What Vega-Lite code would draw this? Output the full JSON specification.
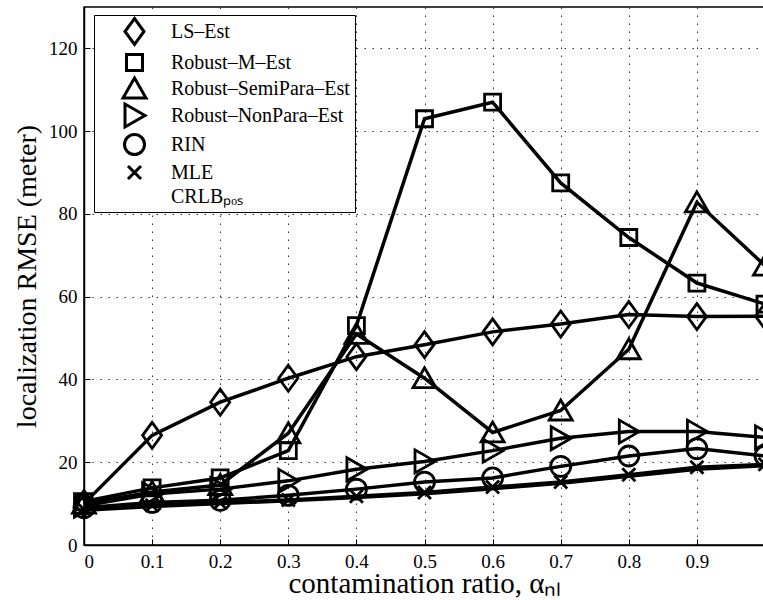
{
  "$schema": "https://vega.github.io/schema/vega-lite/v6.json",
  "width": 681,
  "height": 538,
  "autosize": {"type": "none"},
  "padding": {"left": 84, "top": 7, "right": 0, "bottom": 55},
  "background": "white",
  "config": {
    "font": "Liberation Serif",
    "view": {"stroke": "black", "strokeWidth": 1.5},
    "axis": {
      "domainColor": "black",
      "domainWidth": 1.5,
      "tickColor": "black",
      "tickSize": -6,
      "tickWidth": 1,
      "labelFont": "Liberation Serif",
      "labelFontSize": 19,
      "labelColor": "black",
      "titleFont": "Liberation Serif",
      "titleFontSize": 28,
      "titleFontWeight": "normal",
      "titleColor": "black",
      "grid": true,
      "gridColor": "black",
      "gridDash": [1.5, 6.5],
      "gridWidth": 1,
      "gridOpacity": 0.8
    }
  },
  "data": {
    "values": [
      {"x": 0.0, "series": "LS–Est", "y": 10.0},
      {"x": 0.1, "series": "LS–Est", "y": 26.5},
      {"x": 0.2, "series": "LS–Est", "y": 34.5},
      {"x": 0.3, "series": "LS–Est", "y": 40.3},
      {"x": 0.4, "series": "LS–Est", "y": 45.5},
      {"x": 0.5, "series": "LS–Est", "y": 48.4},
      {"x": 0.6, "series": "LS–Est", "y": 51.5},
      {"x": 0.7, "series": "LS–Est", "y": 53.4},
      {"x": 0.8, "series": "LS–Est", "y": 55.7},
      {"x": 0.9, "series": "LS–Est", "y": 55.2},
      {"x": 1.0, "series": "LS–Est", "y": 55.3},

      {"x": 0.0, "series": "Robust–M–Est", "y": 10.5},
      {"x": 0.1, "series": "Robust–M–Est", "y": 13.8},
      {"x": 0.2, "series": "Robust–M–Est", "y": 16.2},
      {"x": 0.3, "series": "Robust–M–Est", "y": 22.8},
      {"x": 0.4, "series": "Robust–M–Est", "y": 53.0},
      {"x": 0.5, "series": "Robust–M–Est", "y": 103.0},
      {"x": 0.6, "series": "Robust–M–Est", "y": 107.0},
      {"x": 0.7, "series": "Robust–M–Est", "y": 87.5},
      {"x": 0.8, "series": "Robust–M–Est", "y": 74.3},
      {"x": 0.9, "series": "Robust–M–Est", "y": 63.3},
      {"x": 1.0, "series": "Robust–M–Est", "y": 58.2},

      {"x": 0.0, "series": "Robust–SemiPara–Est", "y": 10.0},
      {"x": 0.1, "series": "Robust–SemiPara–Est", "y": 12.8},
      {"x": 0.2, "series": "Robust–SemiPara–Est", "y": 14.5},
      {"x": 0.3, "series": "Robust–SemiPara–Est", "y": 27.0},
      {"x": 0.4, "series": "Robust–SemiPara–Est", "y": 51.0},
      {"x": 0.5, "series": "Robust–SemiPara–Est", "y": 40.3},
      {"x": 0.6, "series": "Robust–SemiPara–Est", "y": 27.2},
      {"x": 0.7, "series": "Robust–SemiPara–Est", "y": 32.5},
      {"x": 0.8, "series": "Robust–SemiPara–Est", "y": 47.3},
      {"x": 0.9, "series": "Robust–SemiPara–Est", "y": 82.8},
      {"x": 1.0, "series": "Robust–SemiPara–Est", "y": 67.5},

      {"x": 0.0, "series": "Robust–NonPara–Est", "y": 9.5},
      {"x": 0.1, "series": "Robust–NonPara–Est", "y": 12.3},
      {"x": 0.2, "series": "Robust–NonPara–Est", "y": 13.5},
      {"x": 0.3, "series": "Robust–NonPara–Est", "y": 15.5},
      {"x": 0.4, "series": "Robust–NonPara–Est", "y": 18.3},
      {"x": 0.5, "series": "Robust–NonPara–Est", "y": 20.2},
      {"x": 0.6, "series": "Robust–NonPara–Est", "y": 22.8},
      {"x": 0.7, "series": "Robust–NonPara–Est", "y": 25.8},
      {"x": 0.8, "series": "Robust–NonPara–Est", "y": 27.4},
      {"x": 0.9, "series": "Robust–NonPara–Est", "y": 27.4},
      {"x": 1.0, "series": "Robust–NonPara–Est", "y": 26.0},

      {"x": 0.0, "series": "RIN", "y": 9.0},
      {"x": 0.1, "series": "RIN", "y": 10.3},
      {"x": 0.2, "series": "RIN", "y": 10.8},
      {"x": 0.3, "series": "RIN", "y": 12.0},
      {"x": 0.4, "series": "RIN", "y": 13.5},
      {"x": 0.5, "series": "RIN", "y": 15.2},
      {"x": 0.6, "series": "RIN", "y": 16.2},
      {"x": 0.7, "series": "RIN", "y": 19.0},
      {"x": 0.8, "series": "RIN", "y": 21.5},
      {"x": 0.9, "series": "RIN", "y": 23.3},
      {"x": 1.0, "series": "RIN", "y": 21.5},

      {"x": 0.0, "series": "MLE", "y": 8.6},
      {"x": 0.1, "series": "MLE", "y": 9.6},
      {"x": 0.2, "series": "MLE", "y": 10.2},
      {"x": 0.3, "series": "MLE", "y": 10.9},
      {"x": 0.4, "series": "MLE", "y": 11.8},
      {"x": 0.5, "series": "MLE", "y": 12.7},
      {"x": 0.6, "series": "MLE", "y": 14.0},
      {"x": 0.7, "series": "MLE", "y": 15.2},
      {"x": 0.8, "series": "MLE", "y": 17.0},
      {"x": 0.9, "series": "MLE", "y": 18.8},
      {"x": 1.0, "series": "MLE", "y": 19.5},

      {"x": 0.0, "series": "CRLBₚₒₛ", "y": 8.4},
      {"x": 0.1, "series": "CRLBₚₒₛ", "y": 9.3},
      {"x": 0.2, "series": "CRLBₚₒₛ", "y": 10.0},
      {"x": 0.3, "series": "CRLBₚₒₛ", "y": 10.7},
      {"x": 0.4, "series": "CRLBₚₒₛ", "y": 11.5},
      {"x": 0.5, "series": "CRLBₚₒₛ", "y": 12.4},
      {"x": 0.6, "series": "CRLBₚₒₛ", "y": 13.6},
      {"x": 0.7, "series": "CRLBₚₒₛ", "y": 14.9},
      {"x": 0.8, "series": "CRLBₚₒₛ", "y": 16.6},
      {"x": 0.9, "series": "CRLBₚₒₛ", "y": 18.3},
      {"x": 1.0, "series": "CRLBₚₒₛ", "y": 19.2}
    ]
  },
  "encoding": {
    "x": {
      "field": "x",
      "type": "quantitative",
      "scale": {"domain": [0, 1], "nice": false, "zero": false},
      "axis": {
        "title": "contamination ratio, αₙₗ",
        "titleFontSize": 29,
        "values": [0, 0.1, 0.2, 0.3, 0.4, 0.5, 0.6, 0.7, 0.8, 0.9],
        "format": ".1~f",
        "labelPadding": 13,
        "titlePadding": -2
      }
    },
    "y": {
      "field": "y",
      "type": "quantitative",
      "scale": {"domain": [0, 130], "nice": false},
      "axis": {
        "title": "localization RMSE (meter)",
        "values": [0, 20, 40, 60, 80, 100, 120],
        "labelPadding": 13,
        "titlePadding": 7
      }
    }
  },
  "layer": [
    {
      "mark": {"type": "line", "color": "black", "strokeWidth": 3.5},
      "encoding": {
        "detail": {"field": "series", "type": "nominal"}
      }
    },
    {
      "mark": {"type": "point", "filled": false, "color": "black", "strokeWidth": 2.8, "size": 400, "opacity": 1},
      "encoding": {
        "shape": {
          "field": "series",
          "type": "nominal",
          "scale": {
            "domain": ["LS–Est", "Robust–M–Est", "Robust–SemiPara–Est", "Robust–NonPara–Est", "RIN", "MLE", "CRLBₚₒₛ"],
            "range": [
              "M0,-1.3L0.95,0L0,1.3L-0.95,0Z",
              "M-0.8,-0.8L0.8,-0.8L0.8,0.8L-0.8,0.8Z",
              "M0,-1.05L1.15,0.95L-1.15,0.95Z",
              "M1.05,0L-0.95,-1.15L-0.95,1.15Z",
              "M1,0A1,1,0,1,1,-1,0A1,1,0,1,1,1,0Z",
              "M-0.65,-0.65L0.65,0.65M-0.65,0.65L0.65,-0.65",
              "M0,0"
            ]
          },
          "legend": {
            "title": null,
            "orient": "none",
            "legendX": 10,
            "legendY": 8,
            "padding": 5,
            "strokeColor": "black",
            "fillColor": "white",
            "symbolSize": 400,
            "symbolStrokeWidth": 3,
            "symbolStrokeColor": "black",
            "symbolFillColor": "transparent",
            "symbolOffset": 24,
            "labelOffset": 25,
            "labelFont": "Liberation Serif",
            "labelFontSize": 20,
            "labelColor": "black",
            "labelLimit": 300,
            "rowPadding": -9
          }
        }
      }
    }
  ]
}
